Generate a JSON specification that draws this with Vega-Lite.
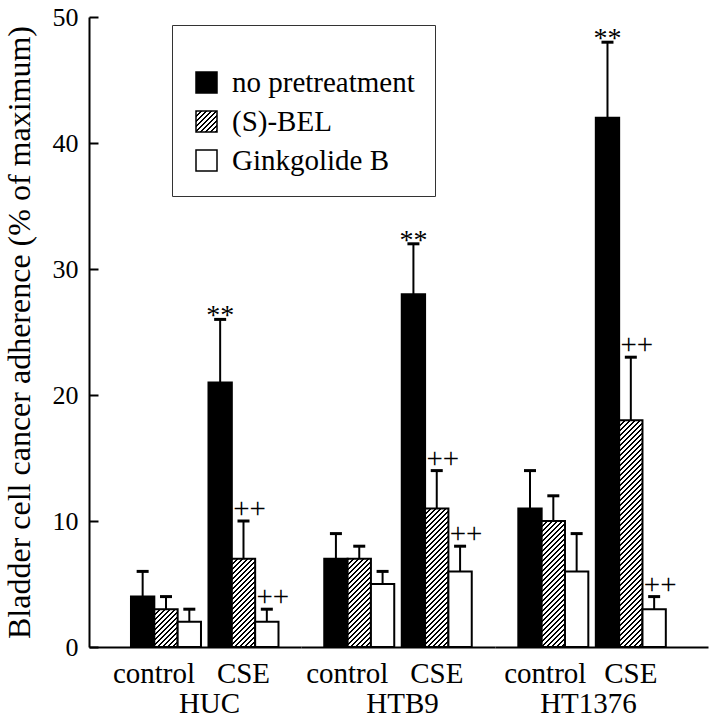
{
"$schema": "https://vega.github.io/schema/vega-lite/v6.json",
"padding": {"left": 3, "top": 4, "right": 2, "bottom": 2},
"autosize": {"type": "pad"},
"background": "white",
"params": [{"name": "hatch", "value": [
{"offset":0,"color":"#000"},{"offset":0.007,"color":"#000"},{"offset":0.007,"color":"#fff"},{"offset":0.02,"color":"#fff"},
{"offset":0.02,"color":"#000"},{"offset":0.027,"color":"#000"},{"offset":0.027,"color":"#fff"},{"offset":0.04,"color":"#fff"},
{"offset":0.04,"color":"#000"},{"offset":0.047,"color":"#000"},{"offset":0.047,"color":"#fff"},{"offset":0.06,"color":"#fff"},
{"offset":0.06,"color":"#000"},{"offset":0.067,"color":"#000"},{"offset":0.067,"color":"#fff"},{"offset":0.08,"color":"#fff"},
{"offset":0.08,"color":"#000"},{"offset":0.087,"color":"#000"},{"offset":0.087,"color":"#fff"},{"offset":0.1,"color":"#fff"},
{"offset":0.1,"color":"#000"},{"offset":0.107,"color":"#000"},{"offset":0.107,"color":"#fff"},{"offset":0.12,"color":"#fff"},
{"offset":0.12,"color":"#000"},{"offset":0.127,"color":"#000"},{"offset":0.127,"color":"#fff"},{"offset":0.14,"color":"#fff"},
{"offset":0.14,"color":"#000"},{"offset":0.147,"color":"#000"},{"offset":0.147,"color":"#fff"},{"offset":0.16,"color":"#fff"},
{"offset":0.16,"color":"#000"},{"offset":0.167,"color":"#000"},{"offset":0.167,"color":"#fff"},{"offset":0.18,"color":"#fff"},
{"offset":0.18,"color":"#000"},{"offset":0.187,"color":"#000"},{"offset":0.187,"color":"#fff"},{"offset":0.2,"color":"#fff"},
{"offset":0.2,"color":"#000"},{"offset":0.207,"color":"#000"},{"offset":0.207,"color":"#fff"},{"offset":0.22,"color":"#fff"},
{"offset":0.22,"color":"#000"},{"offset":0.227,"color":"#000"},{"offset":0.227,"color":"#fff"},{"offset":0.24,"color":"#fff"},
{"offset":0.24,"color":"#000"},{"offset":0.247,"color":"#000"},{"offset":0.247,"color":"#fff"},{"offset":0.26,"color":"#fff"},
{"offset":0.26,"color":"#000"},{"offset":0.267,"color":"#000"},{"offset":0.267,"color":"#fff"},{"offset":0.28,"color":"#fff"},
{"offset":0.28,"color":"#000"},{"offset":0.287,"color":"#000"},{"offset":0.287,"color":"#fff"},{"offset":0.3,"color":"#fff"},
{"offset":0.3,"color":"#000"},{"offset":0.307,"color":"#000"},{"offset":0.307,"color":"#fff"},{"offset":0.32,"color":"#fff"},
{"offset":0.32,"color":"#000"},{"offset":0.327,"color":"#000"},{"offset":0.327,"color":"#fff"},{"offset":0.34,"color":"#fff"},
{"offset":0.34,"color":"#000"},{"offset":0.347,"color":"#000"},{"offset":0.347,"color":"#fff"},{"offset":0.36,"color":"#fff"},
{"offset":0.36,"color":"#000"},{"offset":0.367,"color":"#000"},{"offset":0.367,"color":"#fff"},{"offset":0.38,"color":"#fff"},
{"offset":0.38,"color":"#000"},{"offset":0.387,"color":"#000"},{"offset":0.387,"color":"#fff"},{"offset":0.4,"color":"#fff"},
{"offset":0.4,"color":"#000"},{"offset":0.407,"color":"#000"},{"offset":0.407,"color":"#fff"},{"offset":0.42,"color":"#fff"},
{"offset":0.42,"color":"#000"},{"offset":0.427,"color":"#000"},{"offset":0.427,"color":"#fff"},{"offset":0.44,"color":"#fff"},
{"offset":0.44,"color":"#000"},{"offset":0.447,"color":"#000"},{"offset":0.447,"color":"#fff"},{"offset":0.46,"color":"#fff"},
{"offset":0.46,"color":"#000"},{"offset":0.467,"color":"#000"},{"offset":0.467,"color":"#fff"},{"offset":0.48,"color":"#fff"},
{"offset":0.48,"color":"#000"},{"offset":0.487,"color":"#000"},{"offset":0.487,"color":"#fff"},{"offset":0.5,"color":"#fff"},
{"offset":0.5,"color":"#000"},{"offset":0.507,"color":"#000"},{"offset":0.507,"color":"#fff"},{"offset":0.52,"color":"#fff"},
{"offset":0.52,"color":"#000"},{"offset":0.527,"color":"#000"},{"offset":0.527,"color":"#fff"},{"offset":0.54,"color":"#fff"},
{"offset":0.54,"color":"#000"},{"offset":0.547,"color":"#000"},{"offset":0.547,"color":"#fff"},{"offset":0.56,"color":"#fff"},
{"offset":0.56,"color":"#000"},{"offset":0.567,"color":"#000"},{"offset":0.567,"color":"#fff"},{"offset":0.58,"color":"#fff"},
{"offset":0.58,"color":"#000"},{"offset":0.587,"color":"#000"},{"offset":0.587,"color":"#fff"},{"offset":0.6,"color":"#fff"},
{"offset":0.6,"color":"#000"},{"offset":0.607,"color":"#000"},{"offset":0.607,"color":"#fff"},{"offset":0.62,"color":"#fff"},
{"offset":0.62,"color":"#000"},{"offset":0.627,"color":"#000"},{"offset":0.627,"color":"#fff"},{"offset":0.64,"color":"#fff"},
{"offset":0.64,"color":"#000"},{"offset":0.647,"color":"#000"},{"offset":0.647,"color":"#fff"},{"offset":0.66,"color":"#fff"},
{"offset":0.66,"color":"#000"},{"offset":0.667,"color":"#000"},{"offset":0.667,"color":"#fff"},{"offset":0.68,"color":"#fff"},
{"offset":0.68,"color":"#000"},{"offset":0.687,"color":"#000"},{"offset":0.687,"color":"#fff"},{"offset":0.7,"color":"#fff"},
{"offset":0.7,"color":"#000"},{"offset":0.707,"color":"#000"},{"offset":0.707,"color":"#fff"},{"offset":0.72,"color":"#fff"},
{"offset":0.72,"color":"#000"},{"offset":0.727,"color":"#000"},{"offset":0.727,"color":"#fff"},{"offset":0.74,"color":"#fff"},
{"offset":0.74,"color":"#000"},{"offset":0.747,"color":"#000"},{"offset":0.747,"color":"#fff"},{"offset":0.76,"color":"#fff"},
{"offset":0.76,"color":"#000"},{"offset":0.767,"color":"#000"},{"offset":0.767,"color":"#fff"},{"offset":0.78,"color":"#fff"},
{"offset":0.78,"color":"#000"},{"offset":0.787,"color":"#000"},{"offset":0.787,"color":"#fff"},{"offset":0.8,"color":"#fff"},
{"offset":0.8,"color":"#000"},{"offset":0.807,"color":"#000"},{"offset":0.807,"color":"#fff"},{"offset":0.82,"color":"#fff"},
{"offset":0.82,"color":"#000"},{"offset":0.827,"color":"#000"},{"offset":0.827,"color":"#fff"},{"offset":0.84,"color":"#fff"},
{"offset":0.84,"color":"#000"},{"offset":0.847,"color":"#000"},{"offset":0.847,"color":"#fff"},{"offset":0.86,"color":"#fff"},
{"offset":0.86,"color":"#000"},{"offset":0.867,"color":"#000"},{"offset":0.867,"color":"#fff"},{"offset":0.88,"color":"#fff"},
{"offset":0.88,"color":"#000"},{"offset":0.887,"color":"#000"},{"offset":0.887,"color":"#fff"},{"offset":0.9,"color":"#fff"},
{"offset":0.9,"color":"#000"},{"offset":0.907,"color":"#000"},{"offset":0.907,"color":"#fff"},{"offset":0.92,"color":"#fff"},
{"offset":0.92,"color":"#000"},{"offset":0.927,"color":"#000"},{"offset":0.927,"color":"#fff"},{"offset":0.94,"color":"#fff"},
{"offset":0.94,"color":"#000"},{"offset":0.947,"color":"#000"},{"offset":0.947,"color":"#fff"},{"offset":0.96,"color":"#fff"},
{"offset":0.96,"color":"#000"},{"offset":0.967,"color":"#000"},{"offset":0.967,"color":"#fff"},{"offset":0.98,"color":"#fff"},
{"offset":0.98,"color":"#000"},{"offset":0.987,"color":"#000"},{"offset":0.987,"color":"#fff"},{"offset":1,"color":"#fff"}
]}],
"data": {"values": [
{"cell":"HUC","condition":"control","treatment":"no pretreatment","value":4,"err":6,"sig":""},
{"cell":"HUC","condition":"control","treatment":"(S)-BEL","value":3,"err":4,"sig":""},
{"cell":"HUC","condition":"control","treatment":"Ginkgolide B","value":2,"err":3,"sig":""},
{"cell":"HUC","condition":"CSE","treatment":"no pretreatment","value":21,"err":26,"sig":"**"},
{"cell":"HUC","condition":"CSE","treatment":"(S)-BEL","value":7,"err":10,"sig":"++"},
{"cell":"HUC","condition":"CSE","treatment":"Ginkgolide B","value":2,"err":3,"sig":"++"},
{"cell":"HTB9","condition":"control","treatment":"no pretreatment","value":7,"err":9,"sig":""},
{"cell":"HTB9","condition":"control","treatment":"(S)-BEL","value":7,"err":8,"sig":""},
{"cell":"HTB9","condition":"control","treatment":"Ginkgolide B","value":5,"err":6,"sig":""},
{"cell":"HTB9","condition":"CSE","treatment":"no pretreatment","value":28,"err":32,"sig":"**"},
{"cell":"HTB9","condition":"CSE","treatment":"(S)-BEL","value":11,"err":14,"sig":"++"},
{"cell":"HTB9","condition":"CSE","treatment":"Ginkgolide B","value":6,"err":8,"sig":"++"},
{"cell":"HT1376","condition":"control","treatment":"no pretreatment","value":11,"err":14,"sig":""},
{"cell":"HT1376","condition":"control","treatment":"(S)-BEL","value":10,"err":12,"sig":""},
{"cell":"HT1376","condition":"control","treatment":"Ginkgolide B","value":6,"err":9,"sig":""},
{"cell":"HT1376","condition":"CSE","treatment":"no pretreatment","value":42,"err":48,"sig":"**"},
{"cell":"HT1376","condition":"CSE","treatment":"(S)-BEL","value":18,"err":23,"sig":"++"},
{"cell":"HT1376","condition":"CSE","treatment":"Ginkgolide B","value":3,"err":4,"sig":"++"}
]},
"spacing": 0,
"bounds": "flush",
"resolve": {"scale": {"x": "independent", "y": "independent", "xOffset": "independent"}},
"hconcat": [
{
"width": 212, "height": 630,
"transform": [{"filter": "datum.cell == 'HUC'"}],
"encoding": {
  "x": {"field": "condition", "type": "nominal", "sort": ["control", "CSE"], "scale": {"domain": ["control", "CSE"], "paddingInner": 0.0968, "paddingOuter": 0.416, "align": 0.651, "round": false}, "axis": {"title": "HUC", "titleX": 120, "labelOffset": {"condition": {"test": "datum.value == 'control'", "value": -12}, "value": 0}}},
  "xOffset": {"field": "treatment", "type": "nominal", "scale": {"domain": ["no pretreatment", "(S)-BEL", "Ginkgolide B"], "paddingInner": 0, "paddingOuter": 0}}
},
"layer": [
  {"mark": {"type": "bar", "stroke": "black", "strokeWidth": 2},
   "encoding": {
     "y": {"field": "value", "type": "quantitative", "scale": {"domain": [0, 50], "nice": false}, "axis": {"title": "Bladder cell cancer adherence (% of maximum)", "values": [0, 10, 20, 30, 40, 50]}},
     "fill": {"field": "treatment", "type": "nominal",
       "scale": {"domain": ["no pretreatment", "(S)-BEL", "Ginkgolide B"], "range": ["black", {"expr": "{gradient: 'linear', x1: 0, y1: 0, x2: 5.95, y2: 5.95, stops: hatch}"}, "white"]},
       "condition": {"test": "datum.treatment == '(S)-BEL'", "value": {"expr": "{gradient: 'linear', x1: 0, y1: 0, x2: 5825/(543+pow(datum.value*12.6,2)), y2: datum.value*3150/(543+pow(datum.value*12.6,2)), stops: hatch}"}},
       "legend": {"title": " ", "titleFontSize": 15, "titlePadding": 8, "orient": "none", "legendX": 83, "legendY": 8, "strokeColor": "#333333", "padding": 20, "symbolType": "square", "symbolSize": 441, "symbolStrokeColor": "black", "symbolStrokeWidth": 1.5, "labelFont": "Liberation Serif", "labelFontSize": 29, "labelColor": "black", "labelOffset": 11, "rowPadding": 9, "labelLimit": 400}
     }
   }},
  {"mark": {"type": "rule", "strokeWidth": 2, "color": "black"},
   "encoding": {"y": {"field": "value", "type": "quantitative"}, "y2": {"field": "err"}}},
  {"mark": {"type": "tick", "orient": "horizontal", "size": 12, "thickness": 3, "color": "black", "opacity": 1},
   "encoding": {"y": {"field": "err", "type": "quantitative"}}},
  {"transform": [{"filter": "datum.sig == '**'"}],
   "mark": {"type": "text", "font": "Liberation Serif", "fontSize": 28, "baseline": "alphabetic", "dy": 5, "color": "black"},
   "encoding": {"y": {"field": "err", "type": "quantitative"}, "text": {"field": "sig"}}},
  {"transform": [{"filter": "datum.sig == '++'"}],
   "mark": {"type": "text", "font": "Liberation Serif", "fontSize": 29, "baseline": "alphabetic", "dy": -3, "dx": 6, "color": "black"},
   "encoding": {"y": {"field": "err", "type": "quantitative"}, "text": {"field": "sig"}}}
]
},
{
"width": 194, "height": 630,
"transform": [{"filter": "datum.cell == 'HTB9'"}],
"encoding": {
  "x": {"field": "condition", "type": "nominal", "sort": ["control", "CSE"], "scale": {"domain": ["control", "CSE"], "paddingInner": 0.0968, "paddingOuter": 0.3, "align": 0.5, "round": false}, "axis": {"title": "HTB9", "titleX": 101, "labelOffset": {"condition": {"test": "datum.value == 'control'", "value": -12}, "value": 0}}},
  "xOffset": {"field": "treatment", "type": "nominal", "scale": {"domain": ["no pretreatment", "(S)-BEL", "Ginkgolide B"], "paddingInner": 0, "paddingOuter": 0}}
},
"layer": [
  {"mark": {"type": "bar", "stroke": "black", "strokeWidth": 2},
   "encoding": {
     "y": {"field": "value", "type": "quantitative", "scale": {"domain": [0, 50], "nice": false}, "axis": null},
     "fill": {"value": {"expr": "datum.treatment == 'no pretreatment' ? 'black' : datum.treatment == 'Ginkgolide B' ? 'white' : {gradient: 'linear', x1: 0, y1: 0, x2: 5825/(543+pow(datum.value*12.6,2)), y2: datum.value*3150/(543+pow(datum.value*12.6,2)), stops: hatch}"}}
   }},
  {"mark": {"type": "rule", "strokeWidth": 2, "color": "black"},
   "encoding": {"y": {"field": "value", "type": "quantitative", "axis": null}, "y2": {"field": "err"}}},
  {"mark": {"type": "tick", "orient": "horizontal", "size": 12, "thickness": 3, "color": "black", "opacity": 1},
   "encoding": {"y": {"field": "err", "type": "quantitative", "axis": null}}},
  {"transform": [{"filter": "datum.sig == '**'"}],
   "mark": {"type": "text", "font": "Liberation Serif", "fontSize": 28, "baseline": "alphabetic", "dy": 5, "color": "black"},
   "encoding": {"y": {"field": "err", "type": "quantitative", "axis": null}, "text": {"field": "sig"}}},
  {"transform": [{"filter": "datum.sig == '++'"}],
   "mark": {"type": "text", "font": "Liberation Serif", "fontSize": 29, "baseline": "alphabetic", "dy": -3, "dx": 6, "color": "black"},
   "encoding": {"y": {"field": "err", "type": "quantitative", "axis": null}, "text": {"field": "sig"}}}
]
},
{
"width": 213, "height": 630,
"transform": [{"filter": "datum.cell == 'HT1376'"}],
"encoding": {
  "x": {"field": "condition", "type": "nominal", "sort": ["control", "CSE"], "scale": {"domain": ["control", "CSE"], "paddingInner": 0.0968, "paddingOuter": 0.4226, "align": 0.356, "round": false}, "axis": {"title": "HT1376", "titleX": 93, "labelOffset": {"condition": {"test": "datum.value == 'control'", "value": -8}, "value": 0}}},
  "xOffset": {"field": "treatment", "type": "nominal", "scale": {"domain": ["no pretreatment", "(S)-BEL", "Ginkgolide B"], "paddingInner": 0, "paddingOuter": 0}}
},
"layer": [
  {"mark": {"type": "bar", "stroke": "black", "strokeWidth": 2},
   "encoding": {
     "y": {"field": "value", "type": "quantitative", "scale": {"domain": [0, 50], "nice": false}, "axis": null},
     "fill": {"value": {"expr": "datum.treatment == 'no pretreatment' ? 'black' : datum.treatment == 'Ginkgolide B' ? 'white' : {gradient: 'linear', x1: 0, y1: 0, x2: 5825/(543+pow(datum.value*12.6,2)), y2: datum.value*3150/(543+pow(datum.value*12.6,2)), stops: hatch}"}}
   }},
  {"mark": {"type": "rule", "strokeWidth": 2, "color": "black"},
   "encoding": {"y": {"field": "value", "type": "quantitative", "axis": null}, "y2": {"field": "err"}}},
  {"mark": {"type": "tick", "orient": "horizontal", "size": 12, "thickness": 3, "color": "black", "opacity": 1},
   "encoding": {"y": {"field": "err", "type": "quantitative", "axis": null}}},
  {"transform": [{"filter": "datum.sig == '**'"}],
   "mark": {"type": "text", "font": "Liberation Serif", "fontSize": 28, "baseline": "alphabetic", "dy": 5, "color": "black"},
   "encoding": {"y": {"field": "err", "type": "quantitative", "axis": null}, "text": {"field": "sig"}}},
  {"transform": [{"filter": "datum.sig == '++'"}],
   "mark": {"type": "text", "font": "Liberation Serif", "fontSize": 29, "baseline": "alphabetic", "dy": -3, "dx": 6, "color": "black"},
   "encoding": {"y": {"field": "err", "type": "quantitative", "axis": null}, "text": {"field": "sig"}}}
]
}
],
"config": {
  "view": {"stroke": null},
  "font": "Liberation Serif",
  "axis": {"labelFont": "Liberation Serif", "titleFont": "Liberation Serif", "labelColor": "black", "titleColor": "black", "domainColor": "black", "domainWidth": 2, "tickColor": "black", "tickWidth": 2, "grid": false, "titleFontWeight": "normal"},
  "axisX": {"ticks": false, "labelAngle": 0, "labelFontSize": 29, "titleFontSize": 29, "labelPadding": 12, "titlePadding": 1},
  "axisY": {"labelFontSize": 26, "titleFontSize": 32, "tickSize": -9, "labelPadding": 20, "titlePadding": 16}
}
}
